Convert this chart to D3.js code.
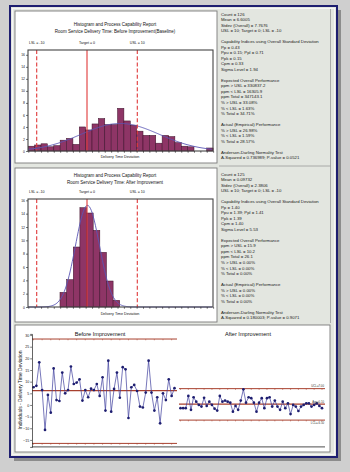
<!DOCTYPE html>
<html>
<head>
<meta charset="utf-8">
<script src="https://cdn.jsdelivr.net/npm/d3@7"></script>
<style>
  html, body { margin: 0; padding: 0; background: #cfcfcf; }
  svg { display: block; }
</style>
</head>
<body>
<svg id="chart"></svg>
<script>
// ---- data ----
const histTitle = "Histogram and Process Capability Report";
const hist1Subtitle = "Room Service Delivery Time: Before Improvement(Baseline)";
const hist2Subtitle = "Room Service Delivery Time: After Improvement";
const xAxisLabel = "Delivery Time Deviation";

const specLabels = ["LSL = -10", "Target = 0", "USL = 10"];
const specValues = [-10, 0, 10];

// histogram bins (start, width) and counts
const hist1Start = -11.67, hist1Bin = 1.267;
const hist1Counts = [0.8, 1.0, 1.2, 0.7, 0.9, 1.8, 2.1, 1.1, 4.0, 3.5, 4.5, 5.4, 4.4, 4.4, 7.1,
                     5.0, 4.3, 3.3, 2.6, 2.6, 1.3, 2.6, 2.4, 1.4, 0.8, 0.7, 0, 0, 0.5];
const hist2Start = -5.37, hist2Bin = 1.32;
const hist2Counts = [2.2, 4.1, 9.0, 14.9, 14.1, 11.5, 8.2, 3.9, 1.0];
const histYTicks = [0, 2, 4, 6, 8, 10, 12, 14, 16];

// fitted normal parameters (from the stats panel)
const fit1Mean = 6.6005, fit1Sd = 7.7676;
const fit2Mean = 0.09732, fit2Sd = 2.3806;

const stats1 = [
  "Count = 126", "Mean = 6.6005", "Stdev (Overall) = 7.7676", "USL = 10; Target = 0; LSL = -10", "",
  "Capability Indices using Overall Standard Deviation", "Pp = 0.43", "Ppu = 0.15; Ppl = 0.71",
  "Ppk = 0.15", "Cpm = 0.33", "Sigma Level = 1.94", "",
  "Expected Overall Performance", "ppm > USL = 330837.2", "ppm < LSL = 16305.9", "ppm Total = 347143.1",
  "% > USL = 33.08%", "% < LSL = 1.63%", "% Total = 34.71%", "",
  "Actual (Empirical) Performance", "% > USL = 26.98%", "% < LSL = 1.59%", "% Total = 28.57%", "",
  "Anderson-Darling Normality Test", "A-Squared = 0.736989; P-value = 0.0521"
];
const stats2 = [
  "Count = 125", "Mean = 0.09732", "Stdev (Overall) = 2.3806", "USL = 10; Target = 0; LSL = -10", "",
  "Capability Indices using Overall Standard Deviation", "Pp = 1.40", "Ppu = 1.39; Ppl = 1.41",
  "Ppk = 1.39", "Cpm = 1.40", "Sigma Level = 5.53", "",
  "Expected Overall Performance", "ppm > USL = 15.9", "ppm < LSL = 10.2", "ppm Total = 26.1",
  "% > USL = 0.00%", "% < LSL = 0.00%", "% Total = 0.00%", "",
  "Actual (Empirical) Performance", "% > USL = 0.00%", "% < LSL = 0.00%", "% Total = 0.00%", "",
  "Anderson-Darling Normality Test", "A-Squared = 0.180003; P-value = 0.9071"
];

// individuals control chart
const beforeValues = [7.6, 8.2, 18.3, 6.4, -10.7, 4.3, -3.3, 15.7, 2.1, 1.7,
                      13.9, 5.0, 6.4, 16.5, 9.0, 9.6, 11.0, 1.9, 6.4, 3.3,
                      7.0, 6.4, 9.0, 3.9, 11.9, -2.4, 19.0, -2.9, 6.9, 13.9,
                      3.1, 16.2, 15.3, -5.6, 7.6, 8.6, 6.0, -0.7, -1.1, 5.3,
                      19.0, 5.3, -2.4, 3.3, -7.9, 5.0, 2.1, 11.0, 3.9, 7.2];
const afterValues = [-1.4, -1.4, -1.4, 3.9, -2.1, 3.3, 1.4, 0.0, -0.7, 3.1,
                     -0.4, 1.4, 0.0, -1.6, -2.4, 3.9, 1.4, 1.9, 1.4, 1.0,
                     -2.9, -0.4, -2.1, 1.9, 6.7, 1.0, 3.3, 2.9, 1.0, -2.9,
                     1.0, 2.9, -1.4, 2.9, 3.3, -0.7, 1.9, -0.7, -2.1, 1.4,
                     -1.4, 0.7, -3.9, 0.0, -0.7, -2.6, -0.7, 0.0, 0.7, 0.7,
                     -0.7, 0.0, 0.7, -0.4, -1.4];
const beforeLimits = [28.3, -16.5];   // UCL, LCL
const afterLimits = [7.0, -6.5];
const afterLimitLabels = ["UCL=7.00", "Avg=0.10", "LCL=-6.50"];
const ctrlYTicks = [30, 25, 20, 15, 10, 5, 0, -5, -10, -15];
const ctrlTitles = ["Before Improvement", "After Improvement"];
const ctrlYLabel = "Individuals - Delivery Time Deviation";

// ---- drawing ----
const width = 350, height = 472;
const font = "'Liberation Sans', Arial, sans-serif";
const barFill = "#8e3566", specRed = "#e0393a", fitBlue = "#5a56b4";
const limitRed = "#a8402e", navy = "#1e1e70";

const svg = d3.select("#chart")
  .attr("width", width)
  .attr("height", height)
  .attr("viewBox", [0, 0, width, height])
  .style("font-family", font);

// page background, shadow, framed panel
svg.append("rect").attr("width", width).attr("height", height).attr("fill", "#cfcfcf");
svg.append("rect").attr("x", 14).attr("y", 10).attr("width", 327).attr("height", 451).attr("fill", "#8c8c8c");
svg.append("rect").attr("x", 10).attr("y", 6).attr("width", 327).attr("height", 451)
  .attr("fill", "#e3e6e0").attr("stroke", navy).attr("stroke-width", 2);
svg.append("rect").attr("x", 12.5).attr("y", 8.5).attr("width", 322).attr("height", 446)
  .attr("fill", "none").attr("stroke", "#fafafa").attr("stroke-width", 0.8);

// stats column separators
svg.append("line").attr("x1", 330.5).attr("x2", 330.5).attr("y1", 9).attr("y2", 323)
  .attr("stroke", "#9a9a9a").attr("stroke-width", 0.8);
svg.append("line").attr("x1", 219).attr("x2", 330.5).attr("y1", 166).attr("y2", 166)
  .attr("stroke", "#9a9a9a").attr("stroke-width", 0.8);

const x = d3.scaleLinear([-11.73, 25.05], [28, 213]);

function drawHist(o) {
  const g = svg.append("g");
  g.append("rect").attr("x", o.box[0]).attr("y", o.box[1]).attr("width", o.box[2]).attr("height", o.box[3])
    .attr("fill", "#fff").attr("stroke", "#7a7a7a").attr("stroke-width", 0.9);

  const y = d3.scaleLinear([0, o.yMax], [o.bottom, o.top]);

  // titles
  g.selectAll(".title").data(o.titles).join("text")
    .attr("x", 115).attr("y", (d, i) => o.titleY + i * 7)
    .attr("text-anchor", "middle").attr("font-size", 4.5).attr("fill", "#111")
    .text(d => d);

  // bars
  const bins = o.counts.map((c, i) => ({x0: o.start + i * o.bin, x1: o.start + (i + 1) * o.bin, c}));
  g.append("g").selectAll("rect").data(bins.filter(d => d.c > 0)).join("rect")
    .attr("x", d => x(d.x0))
    .attr("y", d => y(d.c))
    .attr("width", d => x(d.x1) - x(d.x0))
    .attr("height", d => y(0) - y(d.c))
    .attr("fill", barFill).attr("stroke", "#3a1028").attr("stroke-width", 0.5);

  // fitted normal curve
  const area = d3.sum(o.counts) * o.bin;
  const pdf = v => area / (o.sd * Math.sqrt(2 * Math.PI)) * Math.exp(-((v - o.mean) ** 2) / (2 * o.sd * o.sd));
  const xs = d3.range(x.domain()[0], x.domain()[1], 0.2);
  g.append("path").datum(xs)
    .attr("fill", "none").attr("stroke", fitBlue).attr("stroke-width", 0.9)
    .attr("d", d3.line().x(v => x(v)).y(v => y(pdf(v))));

  // spec limit lines and labels
  g.append("g").selectAll("line").data(specValues).join("line")
    .attr("x1", d => x(d)).attr("x2", d => x(d))
    .attr("y1", o.top).attr("y2", o.bottom)
    .attr("stroke", specRed).attr("stroke-width", 1.1)
    .attr("stroke-dasharray", d => d === 0 ? null : "4,2.2");
  g.append("g").selectAll("text").data(specLabels).join("text")
    .attr("x", (d, i) => x(specValues[i]))
    .attr("y", o.specY)
    .attr("text-anchor", "middle").attr("font-size", 3.6).attr("fill", "#111")
    .text(d => d);

  // frame
  g.append("rect").attr("x", 28).attr("y", o.top).attr("width", 185).attr("height", o.bottom - o.top)
    .attr("fill", "none").attr("stroke", "#444").attr("stroke-width", 1.1);

  // axes
  const edges = d3.range(30).map(i => hist1Start + i * hist1Bin);
  g.append("g").attr("transform", `translate(0,${o.bottom})`)
    .call(d3.axisBottom(x).tickValues(edges).tickFormat("").tickSize(1.8).tickSizeOuter(0))
    .call(a => a.select(".domain").remove())
    .call(a => a.selectAll("line").attr("stroke", "#222").attr("stroke-width", 0.6));
  g.append("g").attr("transform", "translate(28,0)")
    .call(d3.axisLeft(y).tickValues(histYTicks).tickSize(2).tickPadding(1))
    .call(a => a.select(".domain").remove())
    .call(a => a.selectAll("line").attr("stroke", "#222").attr("stroke-width", 0.6))
    .call(a => a.selectAll("text").attr("font-size", 3.4).attr("font-family", font).attr("fill", "#111"));

  g.append("text").attr("x", 120).attr("y", o.xLabelY)
    .attr("text-anchor", "middle").attr("font-size", 3.7).attr("fill", "#111")
    .text(xAxisLabel);

  // stats text
  g.append("g").selectAll("text").data(o.stats).join("text")
    .attr("x", 221).attr("y", (d, i) => o.statsY + i * 5.53 + 1.5)
    .attr("font-size", 4.3).attr("fill", "#1a1a1a")
    .text(d => d);
}

drawHist({box: [15, 11, 202, 152], top: 50, bottom: 151, yMax: 16.8,
          titles: [histTitle, hist1Subtitle], titleY: 25.5, specY: 44.2, xLabelY: 158,
          counts: hist1Counts, start: hist1Start, bin: hist1Bin, mean: fit1Mean, sd: fit1Sd,
          stats: stats1, statsY: 14});
drawHist({box: [15, 168, 202, 154], top: 199, bottom: 307, yMax: 16.2,
          titles: [histTitle, hist2Subtitle], titleY: 176.5, specY: 192.5, xLabelY: 314.5,
          counts: hist2Counts, start: hist2Start, bin: hist2Bin, mean: fit2Mean, sd: fit2Sd,
          stats: stats2, statsY: 174});

// ---- individuals chart ----
const cg = svg.append("g");
cg.append("rect").attr("x", 15).attr("y", 325).attr("width", 315).attr("height", 127)
  .attr("fill", "#fff").attr("stroke", "#7a7a7a").attr("stroke-width", 0.9);

const yC = d3.scaleLinear([-18, 30.5], [446.9, 333.9]);
const xB = d3.scaleLinear([0, beforeValues.length - 1], [33.5, 174.5]);
const xA = d3.scaleLinear([0, afterValues.length - 1], [180.5, 322]);

function drawSection(values, xs, limits, x0, x1) {
  const cl = d3.mean(values);
  const lines = [limits[0], cl, limits[1]];
  cg.append("g").selectAll("line").data(lines).join("line")
    .attr("x1", x0).attr("x2", x1)
    .attr("y1", d => yC(d)).attr("y2", d => yC(d))
    .attr("stroke", limitRed).attr("stroke-width", (d, i) => i === 1 ? 1.4 : 1);
  // small ticks along the limit lines
  const tickIdx = d3.range(0, values.length, 3);
  [limits[0], limits[1]].forEach(l => {
    cg.append("g").selectAll("line").data(tickIdx).join("line")
      .attr("x1", i => xs(i)).attr("x2", i => xs(i))
      .attr("y1", yC(l)).attr("y2", yC(l) + 1.3)
      .attr("stroke", limitRed).attr("stroke-width", 0.5);
  });
  cg.append("path").datum(values)
    .attr("fill", "none").attr("stroke", "#3c3c9c").attr("stroke-width", 0.7)
    .attr("d", d3.line().x((d, i) => xs(i)).y(d => yC(d)));
  cg.append("g").selectAll("circle").data(values).join("circle")
    .attr("cx", (d, i) => xs(i)).attr("cy", d => yC(d)).attr("r", 1.35)
    .attr("fill", navy);
  return lines;
}

drawSection(beforeValues, xB, beforeLimits, 32, 177);
const afterLines = drawSection(afterValues, xA, afterLimits, 179, 325);

// labels on the after limits
cg.append("g").selectAll("text").data(afterLines).join("text")
  .attr("x", 324).attr("y", (d, i) => yC(d) + (i === 2 ? 4 : -1.5))
  .attr("text-anchor", "end").attr("font-size", 2.8).attr("fill", "#333")
  .text((d, i) => afterLimitLabels[i]);

// axes
cg.append("g").attr("transform", "translate(32,0)")
  .call(d3.axisLeft(yC).tickValues(ctrlYTicks).tickSize(1.8).tickPadding(1))
  .call(a => a.select(".domain").attr("stroke", "#222").attr("stroke-width", 0.7))
  .call(a => a.selectAll("line").attr("stroke", "#222").attr("stroke-width", 0.6))
  .call(a => a.selectAll("text").attr("font-size", 3.6).attr("font-family", font).attr("fill", "#111"));
cg.append("line").attr("x1", 32).attr("x2", 325).attr("y1", yC(-18)).attr("y2", yC(-18))
  .attr("stroke", "#222").attr("stroke-width", 0.8);

cg.selectAll(".ctitle").data(ctrlTitles).join("text")
  .attr("x", (d, i) => i === 0 ? 100 : 248).attr("y", 335.5)
  .attr("text-anchor", "middle").attr("font-size", 5.6).attr("fill", "#111")
  .text(d => d);

cg.append("text")
  .attr("transform", "translate(21.5,390) rotate(-90)")
  .attr("text-anchor", "middle").attr("font-size", 4.9).attr("fill", "#111")
  .text(ctrlYLabel);
</script>
</body>
</html>
